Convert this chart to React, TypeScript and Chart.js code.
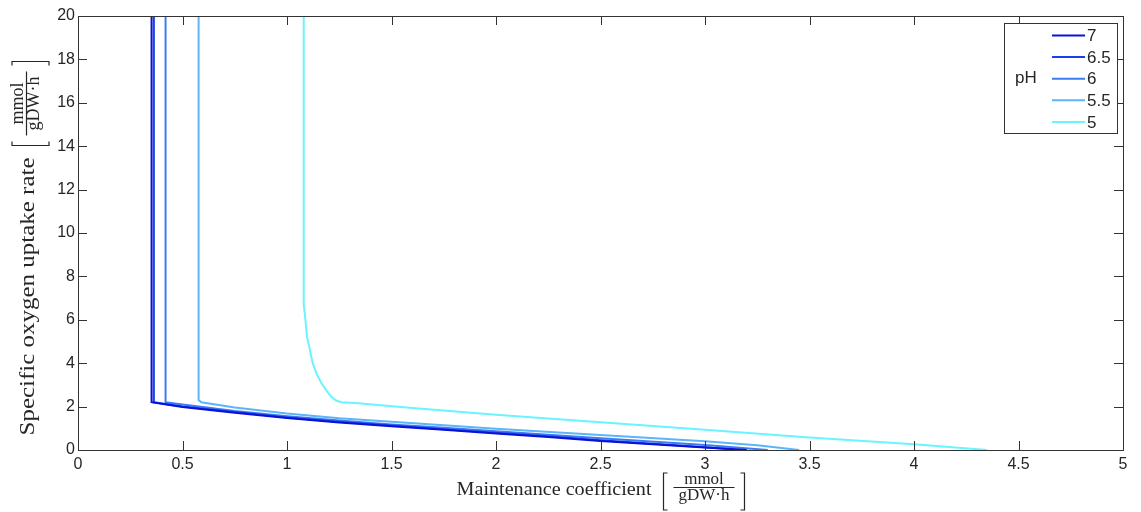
import React, { useEffect, useRef } from "react";
import { Chart, registerables } from "chart.js";

Chart.register(...registerables);

// ---------- data ----------
const phLabels = ["7", "6.5", "6", "5.5", "5"];
const phColors = ["#0a12d8", "#1a40ec", "#3c7cf2", "#5cb4fa", "#6af4ff"];

const ph7X = [0.352, 0.352, 0.5, 0.75, 1, 1.25, 1.5, 1.75, 2, 2.25, 2.5, 2.75, 3, 3.2];
const ph7Y = [20, 2.2, 1.98, 1.72, 1.47, 1.27, 1.1, 0.93, 0.76, 0.6, 0.42, 0.26, 0.11, 0];

const ph65X = [0.363, 0.363, 0.5, 0.75, 1, 1.25, 1.5, 1.75, 2, 2.25, 2.5, 2.75, 3, 3.18];
const ph65Y = [20, 2.2, 2.01, 1.75, 1.5, 1.3, 1.13, 0.96, 0.79, 0.63, 0.45, 0.29, 0.13, 0];

const ph6X = [0.419, 0.419, 0.5, 0.75, 1, 1.25, 1.5, 1.75, 2, 2.5, 3, 3.3];
const ph6Y = [20, 2.2, 2.1, 1.8, 1.56, 1.36, 1.18, 1.02, 0.86, 0.54, 0.23, 0];

const ph55X = [0.577, 0.577, 0.59, 0.75, 1, 1.25, 1.5, 1.75, 2, 2.5, 3, 3.25, 3.45];
const ph55Y = [20, 2.3, 2.2, 1.96, 1.68, 1.46, 1.3, 1.14, 0.98, 0.69, 0.4, 0.22, 0];

const ph5X = [1.08, 1.08, 1.085, 1.096, 1.11, 1.123, 1.142, 1.164, 1.188, 1.212, 1.235, 1.26, 1.34, 1.6, 2, 2.5, 3, 3.5, 4, 4.35];
const ph5Y = [20, 6.7, 6.3, 5.2, 4.6, 4.0, 3.5, 3.1, 2.75, 2.45, 2.28, 2.2, 2.15, 1.93, 1.62, 1.28, 0.93, 0.58, 0.27, 0];

const seriesX = [ph7X, ph65X, ph6X, ph55X, ph5X];
const seriesY = [ph7Y, ph65Y, ph6Y, ph55Y, ph5Y];

const xTicks = [0, 0.5, 1, 1.5, 2, 2.5, 3, 3.5, 4, 4.5, 5];
const yTicks = [0, 2, 4, 6, 8, 10, 12, 14, 16, 18, 20];

const xTitleMain = "Maintenance coefficient";
const yTitleMain = "Specific oxygen uptake rate";
const unitNum = "mmol";
const unitDen = "gDW·h";
const legendTitle = "pH";

// ---------- styles ----------
const SERIF = '"Liberation Serif", "DejaVu Serif", serif';
const SANS = '"Liberation Sans", Arial, sans-serif';
const TEXT = "#262626";
const FRAME = "#333333";

function drawUnitTitle(ctx: CanvasRenderingContext2D, main: string, mainWidth: number, mainSize: number, fracSize: number, measureOnly: boolean): number {
  ctx.font = `${mainSize}px ${SERIF}`;
  const mw = ctx.measureText(main).width;
  if (!measureOnly) {
    ctx.save();
    ctx.textAlign = "left";
    ctx.textBaseline = "alphabetic";
    ctx.scale(mainWidth / mw, 1);
    ctx.fillText(main, 0, 0);
    ctx.restore();
  }
  let x = mainWidth + 12;
  ctx.lineWidth = 1.2;
  if (!measureOnly) {
    ctx.beginPath();
    ctx.moveTo(x + 4, -22);
    ctx.lineTo(x, -22);
    ctx.lineTo(x, 15);
    ctx.lineTo(x + 4, 15);
    ctx.stroke();
  }
  x += 10;
  ctx.font = `${fracSize}px ${SERIF}`;
  const nw = ctx.measureText(unitNum).width;
  const dw = ctx.measureText(unitDen).width;
  const fw = Math.max(nw, dw) + 10;
  if (!measureOnly) {
    ctx.textAlign = "center";
    ctx.textBaseline = "alphabetic";
    ctx.fillText(unitNum, x + fw / 2, -11);
    ctx.fillText(unitDen, x + fw / 2, 5);
    ctx.beginPath();
    ctx.moveTo(x, -7.5);
    ctx.lineTo(x + fw, -7.5);
    ctx.stroke();
  }
  x += fw + 10;
  if (!measureOnly) {
    ctx.beginPath();
    ctx.moveTo(x - 4, -22);
    ctx.lineTo(x, -22);
    ctx.lineTo(x, 15);
    ctx.lineTo(x - 4, 15);
    ctx.stroke();
  }
  return x;
}

const decorPlugin = {
  id: "decor",
  afterDraw(chart: any) {
    const ctx: CanvasRenderingContext2D = chart.ctx;
    const { left, right, top, bottom } = chart.chartArea;
    const xs = chart.scales.x;
    const ys = chart.scales.y;
    ctx.save();

    // frame
    ctx.strokeStyle = FRAME;
    ctx.lineWidth = 1;
    ctx.strokeRect(Math.round(left) + 0.5, Math.round(top) + 0.5, Math.round(right - left), Math.round(bottom - top));

    // inner ticks on all sides
    const tl = 9;
    ctx.beginPath();
    for (const v of xTicks) {
      const px = Math.round(xs.getPixelForValue(v)) + 0.5;
      ctx.moveTo(px, bottom);
      ctx.lineTo(px, bottom - tl);
      ctx.moveTo(px, top);
      ctx.lineTo(px, top + tl);
    }
    for (const v of yTicks) {
      const py = Math.round(ys.getPixelForValue(v)) + 0.5;
      ctx.moveTo(left, py);
      ctx.lineTo(left + tl, py);
      ctx.moveTo(right, py);
      ctx.lineTo(right - tl, py);
    }
    ctx.stroke();

    // axis titles
    ctx.fillStyle = TEXT;
    ctx.strokeStyle = TEXT;
    const xw = drawUnitTitle(ctx, xTitleMain, 195, 19, 17, true);
    ctx.save();
    ctx.translate((left + right) / 2 - xw / 2, 495);
    drawUnitTitle(ctx, xTitleMain, 195, 19, 17, false);
    ctx.restore();

    const yw = drawUnitTitle(ctx, yTitleMain, 278, 21, 18, true);
    ctx.save();
    ctx.translate(34, 248.5);
    ctx.rotate(-Math.PI / 2);
    ctx.translate(-yw / 2, 0);
    drawUnitTitle(ctx, yTitleMain, 278, 21, 18, false);
    ctx.restore();

    // legend
    const bx = 1004.5, by = 23.5, bw = 113, bh = 110;
    ctx.fillStyle = "#ffffff";
    ctx.fillRect(bx, by, bw, bh);
    ctx.strokeStyle = FRAME;
    ctx.lineWidth = 1;
    ctx.strokeRect(bx, by, bw, bh);
    ctx.fillStyle = TEXT;
    ctx.font = `17px ${SANS}`;
    ctx.textBaseline = "middle";
    ctx.textAlign = "left";
    ctx.fillText(legendTitle, 1015, 78);
    const ds = chart.data.datasets;
    ds.forEach((d: any, i: number) => {
      const ry = 35.5 + i * 21.6;
      ctx.strokeStyle = d.borderColor;
      ctx.lineWidth = 2;
      ctx.beginPath();
      ctx.moveTo(1052, ry);
      ctx.lineTo(1085, ry);
      ctx.stroke();
      ctx.fillStyle = TEXT;
      ctx.fillText(d.label, 1087, ry + 1);
    });

    ctx.restore();
  },
};

export default function App() {
  const canvasRef = useRef<HTMLCanvasElement | null>(null);

  useEffect(() => {
    document.body.style.margin = "0";
    const canvas = canvasRef.current;
    if (!canvas) return;
    const datasets = seriesX.map((xsArr, i) => ({
      label: phLabels[i],
      data: xsArr.map((x, j) => ({ x, y: seriesY[i][j] })),
      borderColor: phColors[i],
      backgroundColor: phColors[i],
      borderWidth: 2,
      pointRadius: 0,
      showLine: true,
      tension: 0,
      fill: false,
    }));

    const tickFont = { family: SANS, size: 16 };
    const chart = new Chart(canvas, {
      type: "scatter",
      data: { datasets },
      options: {
        animation: false,
        responsive: true,
        maintainAspectRatio: false,
        layout: { padding: { left: 0, right: 18, top: 16, bottom: 0 } },
        plugins: { legend: { display: false }, tooltip: { enabled: false } },
        scales: {
          x: {
            type: "linear",
            min: 0,
            max: 5,
            afterBuildTicks: (s: any) => {
              s.ticks = xTicks.map((v) => ({ value: v }));
            },
            afterFit: (s: any) => {
              s.height = 62;
            },
            ticks: {
              callback: (v: any) => String(v),
              font: tickFont,
              color: TEXT,
              padding: 5,
              maxRotation: 0,
              autoSkip: false,
            },
            grid: { display: false, drawTicks: false },
            border: { display: false },
          },
          y: {
            type: "linear",
            min: 0,
            max: 20,
            afterBuildTicks: (s: any) => {
              s.ticks = yTicks.map((v) => ({ value: v }));
            },
            afterFit: (s: any) => {
              s.width = 78;
            },
            ticks: {
              callback: (v: any) => String(v),
              font: tickFont,
              color: TEXT,
              padding: 3,
              autoSkip: false,
            },
            grid: { display: false, drawTicks: false },
            border: { display: false },
          },
        },
      },
      plugins: [decorPlugin],
    } as any);
    return () => chart.destroy();
  }, []);

  return (
    <div style={{ position: "relative", width: 1141, height: 512 }}>
      <canvas ref={canvasRef} />
    </div>
  );
}
